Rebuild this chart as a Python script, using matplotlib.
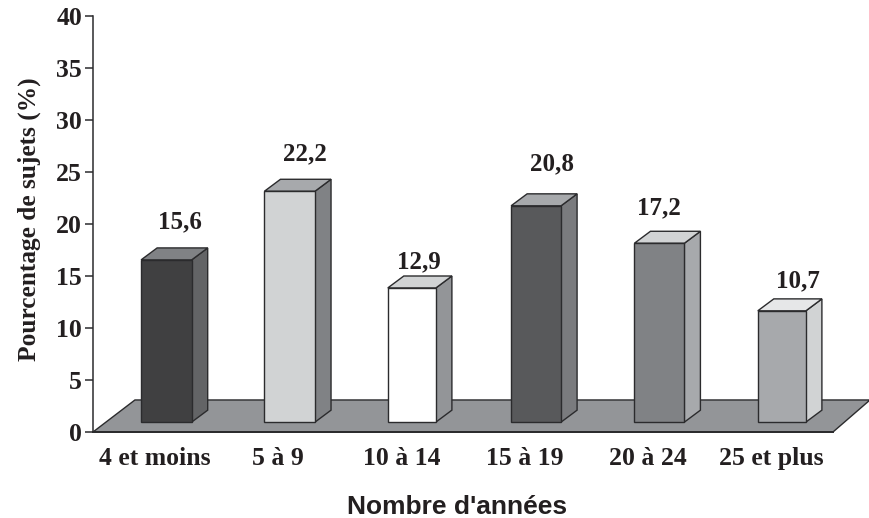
import matplotlib
matplotlib.use('Agg')
import matplotlib.pyplot as plt
from matplotlib.patches import Polygon

# Categories and values of the chart
categories = ['4 et moins', '5 à 9', '10 à 14', '15 à 19', '20 à 24', '25 et plus']
values = [15.6, 22.2, 12.9, 20.8, 17.2, 10.7]
value_labels = ['15,6', '22,2', '12,9', '20,8', '17,2', '10,7']
y_ticks = [0, 5, 10, 15, 20, 25, 30, 35, 40]

# Face colours of each bar
front_colors = ['#404041', '#d1d3d4', '#ffffff', '#58595b', '#808285', '#a7a9ac']
side_colors = ['#636466', '#808285', '#939598', '#7a7b7e', '#a7a9ac', '#d1d3d4']
top_colors = ['#808285', '#a7a9ac', '#d1d3d4', '#a7a9ac', '#d1d3d4', '#e6e7e8']

# Label offsets from the back top corner of each bar, in points
label_dx = [-20, -19, -24, -18, -30, -17]
label_dy = [18.5, 18, 10.5, 21.5, 17, 13]

# Pseudo 3D settings, in data units
bar_left = -0.11
bar_widths = [0.41, 0.41, 0.39, 0.405, 0.405, 0.39]
depth_x = 0.13
depth_y = 1.15
base = 0.95
edge = '#2b2b2d'

plt.rcParams['font.family'] = ['Liberation Serif', 'DejaVu Serif']
plt.rcParams['font.weight'] = 'bold'

fig = plt.figure(figsize=(8.69, 5.18), dpi=100)
ax = fig.add_axes([93 / 869, (518 - 432) / 518, 740 / 869, 416 / 518])
ax.set_xlim(-0.5, 5.5)
ax.set_ylim(0, 40)

# Grey floor under the bars
floor = Polygon([(-0.5, 0), (5.5, 0), (5.5 + 0.3, 3.08), (-0.5 + 0.34, 3.08)],
                closed=True, facecolor='#939598', edgecolor=edge, linewidth=1,
                clip_on=False, zorder=1)
ax.add_patch(floor)
ax.plot([-0.5, 5.5], [0, 0], color=edge, linewidth=1.4, clip_on=False, zorder=1.5)

# Each bar is a front, a side and a top face
for i, value in enumerate(values):
    x0 = i + bar_left
    x1 = x0 + bar_widths[i]
    y0 = base
    y1 = base + value
    front = [(x0, y0), (x1, y0), (x1, y1), (x0, y1)]
    side = [(x1, y0), (x1 + depth_x, y0 + depth_y), (x1 + depth_x, y1 + depth_y), (x1, y1)]
    top = [(x0, y1), (x1, y1), (x1 + depth_x, y1 + depth_y), (x0 + depth_x, y1 + depth_y)]
    ax.add_patch(Polygon(side, closed=True, facecolor=side_colors[i], edgecolor=edge, linewidth=1, zorder=2))
    ax.add_patch(Polygon(top, closed=True, facecolor=top_colors[i], edgecolor=edge, linewidth=1, zorder=2))
    ax.add_patch(Polygon(front, closed=True, facecolor=front_colors[i], edgecolor=edge, linewidth=1, zorder=3))
    ax.annotate(value_labels[i], xy=(x1 + depth_x, y1 + depth_y), xytext=(label_dx[i], label_dy[i]),
                textcoords='offset points', ha='center', va='center', fontsize=18,
                fontweight='bold', color='#231f20')

# Axes: only the left spine and its ticks are shown
ax.patch.set_visible(False)
for name in ['top', 'right', 'bottom']:
    ax.spines[name].set_visible(False)
ax.spines['left'].set_color(edge)
ax.spines['left'].set_linewidth(1.1)

ax.set_yticks(y_ticks)
ax.tick_params(axis='y', length=6, width=1.1, color=edge, pad=2, labelsize=18.5, labelcolor='#231f20')
ax.set_xticks(range(len(categories)))
ax.set_xticklabels(categories, va='baseline')
ax.tick_params(axis='x', length=0, pad=23.8, labelsize=18.5, labelcolor='#231f20')

ax.set_ylabel('Pourcentage de sujets (%)', fontsize=18.3, fontweight='bold', color='#231f20',
              labelpad=11, y=0.512)
fig.text(457 / 869, 1 - 507 / 518, "Nombre d'années", ha='center', va='center', fontsize=19,
         fontweight='bold', family=['Liberation Sans', 'DejaVu Sans'], color='#231f20')

fig.savefig('out.png', dpi=100)
